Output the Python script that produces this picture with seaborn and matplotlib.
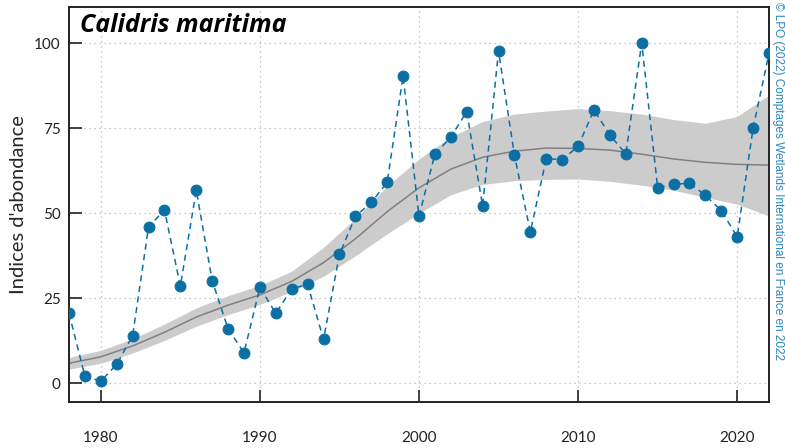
import numpy as np
import pandas as pd
import matplotlib
matplotlib.use("Agg")
import matplotlib.pyplot as plt
import seaborn as sns

# ----------------------------
# Data
# ----------------------------
years = list(range(1978, 2023))
indices = [20.6, 2.1, 0.6, 5.6, 14.0, 46.0, 51.0, 28.6, 56.8, 30.2,
           16.0, 9.0, 28.2, 20.6, 27.8, 29.1, 12.9, 37.9, 49.1, 53.2,
           59.1, 90.4, 49.2, 67.4, 72.4, 79.9, 52.2, 97.7, 67.1, 44.5,
           66.1, 65.8, 69.7, 80.4, 73.0, 67.5, 100.1, 57.6, 58.5, 58.9,
           55.3, 50.8, 43.1, 75.0, 97.1]

# smoothed trend and its confidence band (every 2 years)
trend_years = list(range(1978, 2023, 2))
trend = [5.9, 7.8, 11.0, 15.0, 19.5, 23.0, 26.0, 30.0, 35.5, 42.5,
         50.5, 57.5, 63.0, 66.5, 68.3, 69.2, 69.1, 68.6, 67.4, 66.0,
         65.0, 64.4, 64.2]
trend_low = [4.2, 5.9, 8.9, 12.6, 16.8, 20.2, 23.2, 27.0, 31.5, 37.5,
             44.0, 50.0, 55.5, 58.5, 59.6, 60.0, 60.1, 59.4, 58.3, 56.8,
             54.7, 52.7, 49.2]
trend_high = [7.6, 9.7, 13.1, 17.4, 22.2, 25.8, 28.8, 33.0, 40.0, 48.5,
              58.0, 66.0, 72.5, 77.0, 79.2, 80.1, 80.8, 80.2, 79.2, 77.6,
              76.5, 78.5, 84.8]

x_ticks = [1980, 1990, 2000, 2010, 2020]
y_ticks = [0, 25, 50, 75, 100]

species = "Calidris maritima"
credit = "\u00a9 LPO (2022) Comptages Wetlands International en France en 2022"

df = pd.DataFrame({"annee": years, "indice": indices})
df_trend = pd.DataFrame({"annee": trend_years, "tendance": trend,
                         "bas": trend_low, "haut": trend_high})

# ----------------------------
# Plot
# ----------------------------
sns.set_theme(style="ticks")
plt.rcParams["font.family"] = ["Lato", "DejaVu Sans"]

blue = "#0b6fa4"

fig = plt.figure(figsize=(7.85, 4.48), dpi=100)
ax = fig.add_axes([0.0879, 0.1034, 0.8917, 0.881])

ax.fill_between(df_trend["annee"], df_trend["bas"], df_trend["haut"],
                color="#cccccc", linewidth=0, zorder=1)
sns.lineplot(data=df_trend, x="annee", y="tendance", ax=ax,
             color="#808080", linewidth=1.1, zorder=2)
sns.lineplot(data=df, x="annee", y="indice", ax=ax, color=blue,
             linestyle=(0, (4, 3)), linewidth=1.1, marker="o",
             markersize=7.8, markeredgecolor=blue, zorder=3)

ax.set_xlim(1978, 2022)
ax.set_ylim(-5.4, 110.7)
ax.set_xticks(x_ticks)
ax.set_yticks(y_ticks)
ax.grid(True, color="#b5b5b5", linestyle=(0, (1, 3)), linewidth=0.9)
ax.set_axisbelow(True)

for s in ax.spines.values():
    s.set_visible(True)
    s.set_color("#222222")
    s.set_linewidth(1.4)

ax.tick_params(axis="x", direction="in", length=9, width=1.2,
               pad=21, labelsize=11, colors="#222222")
ax.tick_params(axis="y", direction="in", length=9, width=1.2,
               pad=6, labelsize=11, colors="#222222")

ax.set_xlabel("")
ax.set_ylabel("Indices d'abondance", fontsize=14.5, labelpad=5)

ax.text(0.016, 0.985, species, transform=ax.transAxes, ha="left", va="top",
        fontsize=18, fontweight="bold", fontstyle="italic",
        family=["Open Sans", "DejaVu Sans"], color="black")

fig.text(0.9905, 0.995, credit, rotation=-90, ha="center", va="top",
         fontsize=8.5, color="#2a86bf",
         family=["Liberation Sans", "DejaVu Sans"])

fig.savefig("out.png", dpi=100)
